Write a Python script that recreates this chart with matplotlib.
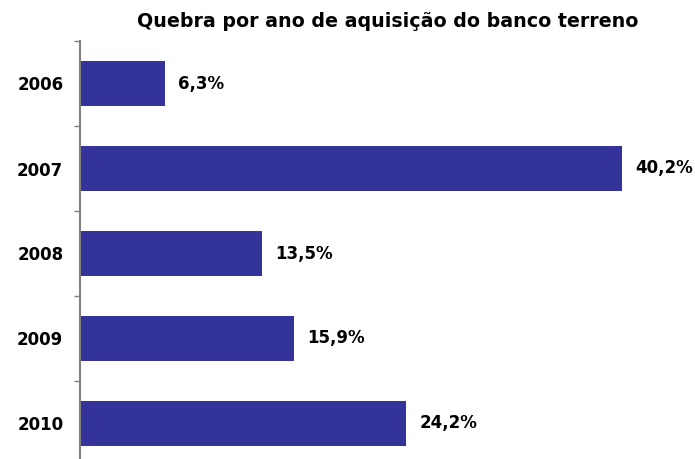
import numpy as np
import matplotlib.pyplot as plt

years = ["2006", "2007", "2008", "2009", "2010"]
shares = [6.3, 40.2, 13.5, 15.9, 24.2]

BAR_COLOR = "#333399"

fig = plt.figure(figsize=(6.95, 4.59), dpi=100)
# axes spans from x=80px to the right edge, y=41px down to the bottom
ax = fig.add_axes([80 / 695, 0, 615 / 695, 418 / 459])

y = np.arange(len(years))
ax.barh(y, shares, height=0.53, color=BAR_COLOR)

for yi, v in zip(y, shares):
    ax.text(v + 0.95, yi, f"{v:.1f}%".replace(".", ","), va="center", ha="left",
            fontsize=12, fontweight="bold")

ax.set_xlim(0, 45.6)
ax.set_ylim(-0.5 + 418 / 85, -0.5)

ax.set_yticks(y)
ax.set_yticklabels(years, fontsize=12, fontweight="bold")
ax.tick_params(axis="y", which="major", length=0, pad=12)
ax.set_yticks(np.arange(-0.5, 4.0, 1.0), minor=True)
ax.tick_params(axis="y", which="minor", length=4, width=1, color="#808080", direction="out")

ax.set_xticks([])
for side in ["top", "right", "bottom"]:
    ax.spines[side].set_visible(False)
ax.spines["left"].set_color("#808080")
ax.spines["left"].set_linewidth(1.5)

ax.set_title("Quebra por ano de aquisição do banco terreno", fontsize=13.7,
             fontweight="bold", pad=10)

fig.savefig("out.png", dpi=100)
